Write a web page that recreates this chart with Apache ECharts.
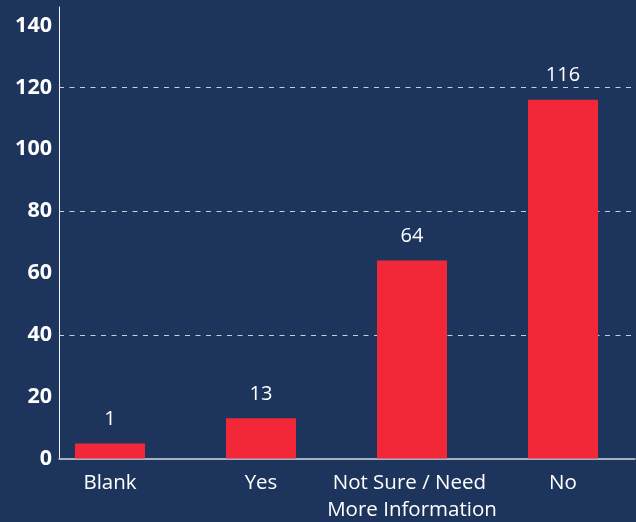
<!DOCTYPE html>
<html>
<head>
<meta charset="utf-8">
<script src="https://cdn.jsdelivr.net/npm/echarts@6/dist/echarts.min.js"></script>
<style>
html,body{margin:0;padding:0;background:#1d355d;}
#chart{width:636px;height:522px;}
</style>
</head>
<body>
<div id="chart"></div>
<script>
var categories = ["Blank", "Yes", "Not Sure / Need More Information", "No"];
var values = [1, 13, 64, 116];

var FONT = "'Open Sans', 'DejaVu Sans', sans-serif";
var chart = echarts.init(document.getElementById('chart'), null, {renderer: 'canvas'});
var option = {
  backgroundColor: '#1d355d',
  animation: false,
  grid: [
    {left: 59, right: 1, top: 7, bottom: 63.5, outerBoundsMode: 'none', containLabel: false},
    {left: 34.5, width: 604, top: 7, bottom: 63.5, outerBoundsMode: 'none', containLabel: false}
  ],
  xAxis: [
    {
      type: 'value', gridIndex: 0, min: 0, max: 1,
      axisLine: {show: true, lineStyle: {color: '#d4dae4', width: 1.5}},
      axisTick: {show: false}, axisLabel: {show: false}, splitLine: {show: false}
    },
    {
      type: 'category', gridIndex: 1, data: categories,
      axisLine: {show: false}, axisTick: {show: false},
      axisLabel: {
        interval: 0, color: '#ffffff', fontFamily: FONT, fontSize: 20.5,
        lineHeight: 27, margin: 11, width: 190, overflow: 'break'
      }
    }
  ],
  yAxis: [
    {
      type: 'value', gridIndex: 0, min: 0, max: 146, interval: 20,
      axisLine: {show: true, lineStyle: {color: '#eef1f5', width: 1}},
      axisTick: {show: false},
      splitLine: {show: false},
      axisLabel: {
        showMaxLabel: false, color: '#ffffff', fontFamily: FONT,
        fontWeight: 'bold', fontSize: 21.5, margin: 7
      }
    },
    {
      type: 'value', gridIndex: 0, min: 0, max: 146, interval: 40,
      axisLine: {show: false}, axisTick: {show: false}, axisLabel: {show: false},
      splitLine: {
        show: true, showMinLine: false, showMaxLine: false,
        lineStyle: {color: '#c9ced8', width: 1, type: [5, 5.5]}
      }
    },
    {
      type: 'value', gridIndex: 1, min: 0, max: 146, show: false
    }
  ],
  series: [{
    type: 'bar',
    xAxisIndex: 1, yAxisIndex: 2,
    data: values,
    barWidth: 70,
    barMinHeight: 15,
    itemStyle: {color: '#f22838'},
    label: {
      show: true, position: 'top', distance: 14,
      color: '#ffffff', fontFamily: FONT, fontSize: 20
    }
  }]
};
chart.setOption(option);
</script>
</body>
</html>
